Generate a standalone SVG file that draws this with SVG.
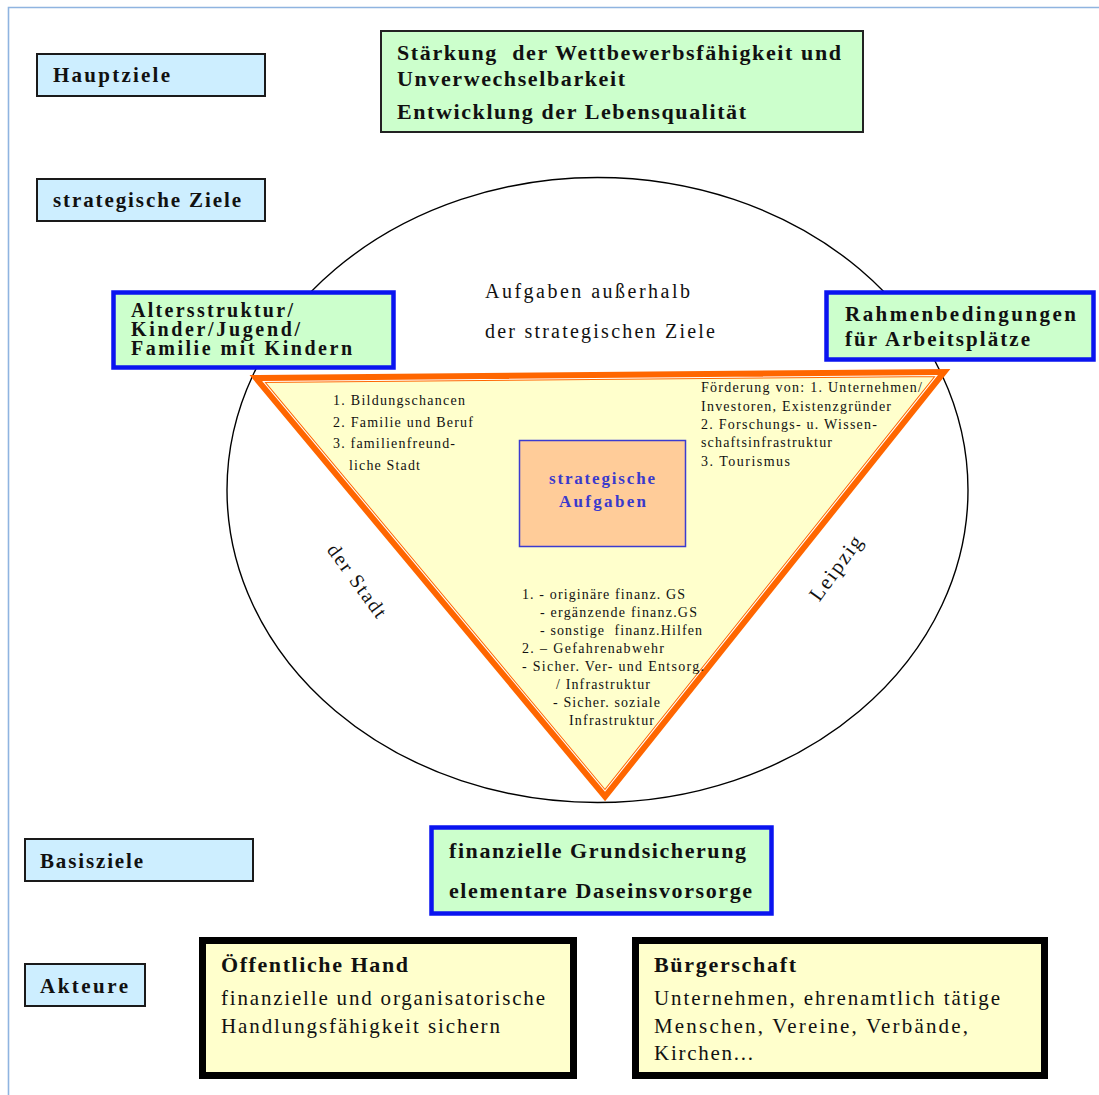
<svg xmlns="http://www.w3.org/2000/svg" width="1099" height="1095" viewBox="0 0 1099 1095">
  <style>
    .t { font-family: "Liberation Serif", "Times New Roman", serif; fill: #111; }
    .b { font-weight: bold; }
    .label { fill: #cdeeff; stroke: #1a1a1a; stroke-width: 2; }
    .goal { fill: #ccffcc; stroke: #222; stroke-width: 2; }
    .goalBlue { fill: #ccffcc; stroke: #0a14f0; stroke-width: 4.5; }
    .actor { fill: #ffffcc; stroke: #000; stroke-width: 7; }
    .task { fill: #3a3acc; }
  </style>

  <rect x="0" y="0" width="1099" height="1095" fill="#ffffff"/>
  <!-- page frame -->
  <path d="M8.5 1095 V7.5 H1099" fill="none" stroke="#8fb4e0" stroke-width="1.6"/>

  <!-- row labels -->
  <g id="hauptziele">
    <rect class="label" x="37" y="54" width="228" height="42"/>
    <text class="t b" x="53" y="82" font-size="21" textLength="117" lengthAdjust="spacing">Hauptziele</text>
  </g>
  <g id="strategische-ziele">
    <rect class="label" x="37" y="179" width="228" height="42"/>
    <text class="t b" x="53" y="207" font-size="21" textLength="188" lengthAdjust="spacing">strategische Ziele</text>
  </g>
  <g id="basisziele">
    <rect class="label" x="25" y="839" width="228" height="42"/>
    <text class="t b" x="40" y="868" font-size="21" textLength="103" lengthAdjust="spacing">Basisziele</text>
  </g>
  <g id="akteure">
    <rect class="label" x="25" y="964" width="120" height="42"/>
    <text class="t b" x="40" y="993" font-size="21" textLength="88" lengthAdjust="spacing">Akteure</text>
  </g>

  <!-- main goals -->
  <g id="hauptziele-inhalt">
    <rect class="goal" x="381" y="31" width="482" height="101"/>
    <text class="t b" x="397" y="60" font-size="22" textLength="444" lengthAdjust="spacing" xml:space="preserve">Stärkung  der Wettbewerbsfähigkeit und</text>
    <text class="t b" x="397" y="86" font-size="22" textLength="228" lengthAdjust="spacing">Unverwechselbarkeit</text>
    <text class="t b" x="397" y="119" font-size="22" textLength="349" lengthAdjust="spacing">Entwicklung der Lebensqualität</text>
  </g>

  <!-- outer ellipse with its labels -->
  <g id="aufgaben-ausserhalb">
    <ellipse cx="597.5" cy="490" rx="370.5" ry="312.5" fill="none" stroke="#000" stroke-width="1.4"/>
    <text class="t" x="485" y="298" font-size="20" textLength="205" lengthAdjust="spacing">Aufgaben außerhalb</text>
    <text class="t" x="485" y="338" font-size="20" textLength="230" lengthAdjust="spacing">der strategischen Ziele</text>
    <text class="t" transform="translate(357 582) rotate(54)" x="0" y="6" font-size="20" text-anchor="middle" letter-spacing="1.8">der Stadt</text>
    <text class="t" transform="translate(837 568) rotate(-54)" x="0" y="6" font-size="21" text-anchor="middle" letter-spacing="1.8">Leipzig</text>
  </g>

  <!-- triangle of strategic tasks -->
  <g id="dreieck">
    <polygon points="258,379 942,373 605,795" fill="#ffffcc" stroke="#ff6600" stroke-width="8" stroke-linejoin="miter"/>
    <polygon points="263.3,381.5 936.8,375.5 605,791" fill="none" stroke="#ffffff" stroke-width="1.1"/>
    <text class="t" font-size="14" lengthAdjust="spacing">
      <tspan x="333" y="405" textLength="132">1. Bildungschancen</tspan>
      <tspan x="333" y="427" textLength="140">2. Familie und Beruf</tspan>
      <tspan x="333" y="448" textLength="122">3. familienfreund-</tspan>
      <tspan x="349" y="470" textLength="71">liche Stadt</tspan>
    </text>
    <text class="t" font-size="14">
      <tspan x="701" y="392" textLength="221">Förderung von: 1. Unternehmen/</tspan>
      <tspan x="701" y="411" textLength="190">Investoren, Existenzgründer</tspan>
      <tspan x="701" y="429" textLength="176">2. Forschungs- u. Wissen-</tspan>
      <tspan x="701" y="447" textLength="131">schaftsinfrastruktur</tspan>
      <tspan x="701" y="466" textLength="89">3. Tourismus</tspan>
    </text>
    <text class="t" font-size="14" xml:space="preserve"><tspan x="522" y="599" textLength="163">1. - originäre finanz. GS</tspan><tspan x="540" y="617" textLength="157">- ergänzende finanz.GS</tspan><tspan x="540" y="635" textLength="162">- sonstige  finanz.Hilfen</tspan><tspan x="522" y="653" textLength="142">2. – Gefahrenabwehr</tspan><tspan x="522" y="671" textLength="182">- Sicher. Ver- und Entsorg.</tspan><tspan x="556" y="689" textLength="94">/ Infrastruktur</tspan><tspan x="553" y="707" textLength="107">- Sicher. soziale</tspan><tspan x="569" y="725" textLength="85">Infrastruktur</tspan></text>
  </g>

  <g id="strategische-aufgaben">
    <rect x="519.5" y="440.5" width="166" height="106" fill="#ffcc99" stroke="#3b3bd0" stroke-width="1.5"/>
    <text class="t b task" x="549" y="484" font-size="17" textLength="106" lengthAdjust="spacing">strategische</text>
    <text class="t b task" x="559" y="507" font-size="17" textLength="87" lengthAdjust="spacing">Aufgaben</text>
  </g>

  <!-- strategic goals -->
  <g id="altersstruktur">
    <rect class="goalBlue" x="113.5" y="292.5" width="280" height="75"/>
    <text class="t b" x="131" y="317" font-size="20" textLength="162" lengthAdjust="spacing">Altersstruktur/</text>
    <text class="t b" x="131" y="336" font-size="20" textLength="169" lengthAdjust="spacing">Kinder/Jugend/</text>
    <text class="t b" x="131" y="355" font-size="20" textLength="221" lengthAdjust="spacing">Familie mit Kindern</text>
  </g>
  <g id="rahmenbedingungen">
    <rect class="goalBlue" x="826.5" y="292.5" width="267" height="67"/>
    <text class="t b" x="845" y="321" font-size="21" textLength="231" lengthAdjust="spacing">Rahmenbedingungen</text>
    <text class="t b" x="845" y="346" font-size="21" textLength="185" lengthAdjust="spacing">für Arbeitsplätze</text>
  </g>

  <!-- basic goals -->
  <g id="basisziele-inhalt">
    <rect class="goalBlue" x="431.5" y="827.5" width="340" height="86"/>
    <text class="t b" x="449" y="858" font-size="22" textLength="297" lengthAdjust="spacing">finanzielle Grundsicherung</text>
    <text class="t b" x="449" y="898" font-size="22" textLength="303" lengthAdjust="spacing">elementare Daseinsvorsorge</text>
  </g>

  <!-- actors -->
  <g id="oeffentliche-hand">
    <rect class="actor" x="202.5" y="940.5" width="371" height="135"/>
    <text class="t b" x="221" y="972" font-size="22" textLength="187" lengthAdjust="spacing">Öffentliche Hand</text>
    <text class="t" x="221" y="1005" font-size="21" textLength="324" lengthAdjust="spacing">finanzielle und organisatorische</text>
    <text class="t" x="221" y="1033" font-size="21" textLength="279" lengthAdjust="spacing">Handlungsfähigkeit sichern</text>
  </g>
  <g id="buergerschaft">
    <rect class="actor" x="635.5" y="940.5" width="409" height="135"/>
    <text class="t b" x="654" y="972" font-size="22" textLength="142" lengthAdjust="spacing">Bürgerschaft</text>
    <text class="t" x="654" y="1005" font-size="21" textLength="346" lengthAdjust="spacing">Unternehmen, ehrenamtlich tätige</text>
    <text class="t" x="654" y="1033" font-size="21" textLength="314" lengthAdjust="spacing">Menschen, Vereine, Verbände,</text>
    <text class="t" x="654" y="1060" font-size="21" textLength="99" lengthAdjust="spacing">Kirchen...</text>
  </g>

  <!-- no connectors in this diagram -->
  <g id="connectors"/>
</svg>
